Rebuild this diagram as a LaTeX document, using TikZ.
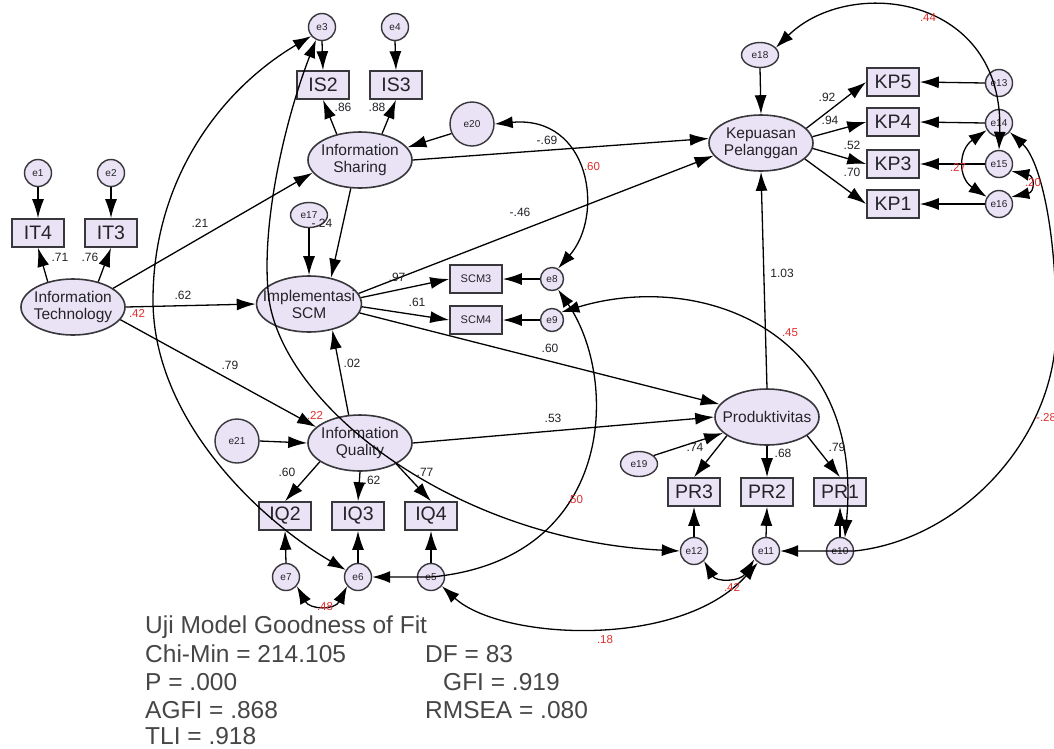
\documentclass[tikz,border=0pt]{standalone}
\usepackage{fontspec}
\setmainfont{Liberation Sans}
\usetikzlibrary{shapes.geometric,arrows.meta}
\definecolor{nodefill}{RGB}{234,226,245}
\definecolor{bord}{RGB}{55,55,60}
\definecolor{ink}{RGB}{35,35,40}
\definecolor{redlab}{RGB}{225,45,45}
\definecolor{fitgray}{RGB}{70,70,70}
\begin{document}
\begin{tikzpicture}[x=1pt,y=-1pt,
  lat/.style={ellipse,draw=bord,fill=nodefill,line width=1.6pt,minimum width=104pt,minimum height=56pt,inner sep=-9pt,align=center,text=ink,font=\fontsize{15.5}{17}\selectfont},
  obs/.style={rectangle,draw=bord,fill=nodefill,line width=1.6pt,minimum width=52pt,minimum height=28pt,inner sep=0pt,text=ink,font=\fontsize{19.5}{20}\selectfont},
  obssmall/.style={obs,font=\fontsize{11}{11}\selectfont},
  err/.style={circle,draw=bord,fill=nodefill,line width=1.4pt,minimum size=27pt,inner sep=0pt,text=ink,font=\fontsize{10}{10}\selectfont},
  errs/.style={err,minimum size=23pt},
  errbig/.style={err,minimum size=44pt},
  errell/.style={ellipse,draw=bord,fill=nodefill,line width=1.4pt,minimum width=37pt,minimum height=25pt,inner sep=-3pt,text=ink,font=\fontsize{10}{10}\selectfont},
  arr/.style={line width=1.3pt,-{Latex[length=19pt,width=12pt]}},
  cov/.style={line width=1.3pt,{Latex[length=18pt,width=12pt]}-{Latex[length=18pt,width=12pt]}},
  coef/.style={font=\fontsize{12}{12}\selectfont,text=ink,inner sep=0pt},
  rcoef/.style={font=\fontsize{11.5}{12}\selectfont,text=redlab,inner sep=0pt},
  fit/.style={font=\fontsize{24.5}{25}\selectfont,text=fitgray,anchor=base west,inner sep=0pt},
]
\fill[white] (0,0) rectangle (1054,748);
\useasboundingbox (0,0) rectangle (1054,748);

% ---------- nodes ----------
\node[err] (e1) at (38,173) {e1};
\node[err] (e2) at (111,173) {e2};
\node[obs] (IT4) at (38,233) {IT4};
\node[obs] (IT3) at (111,233) {IT3};
\node[lat] (IT) at (73,307) {Information\\Technology};

\node[err] (e3) at (322,27) {e3};
\node[err] (e4) at (395,27) {e4};
\node[obs] (IS2) at (323,85) {IS2};
\node[obs] (IS3) at (396,85) {IS3};
\node[lat] (IS) at (360,160) {Information\\Sharing};
\node[errbig] (e20) at (472,124) {e20};
\node[errell] (e17) at (309,215) {e17};

\node[lat] (SCM) at (309,304) {Implementasi\\SCM};
\node[obssmall] (SCM3) at (476,279) {SCM3};
\node[obssmall] (SCM4) at (476,320) {SCM4};
\node[errs] (e8) at (552,279) {e8};
\node[errs] (e9) at (552,320) {e9};

\node[errbig] (e21) at (237,441) {e21};
\node[lat] (IQ) at (360,443) {Information\\Quality};
\node[obs] (IQ2) at (285,516) {IQ2};
\node[obs] (IQ3) at (358,516) {IQ3};
\node[obs] (IQ4) at (431,516) {IQ4};
\node[err] (e7) at (286,577) {e7};
\node[err] (e6) at (358,577) {e6};
\node[err] (e5) at (431,577) {e5};

\node[errell] (e18) at (760,55) {e18};
\node[lat] (KP) at (761,143) {Kepuasan\\Pelanggan};
\node[obs] (KP5) at (893,82) {KP5};
\node[obs] (KP4) at (893,122) {KP4};
\node[obs] (KP3) at (893,164) {KP3};
\node[obs] (KP1) at (893,204) {KP1};
\node[err] (e13) at (999,83) {e13};
\node[err] (e14) at (999,123) {e14};
\node[err] (e15) at (999,164) {e15};
\node[err] (e16) at (999,204) {e16};

\node[lat] (PR) at (767,417) {Produktivitas};
\node[errell] (e19) at (639,464) {e19};
\node[obs] (PR3) at (694,492) {PR3};
\node[obs] (PR2) at (767,492) {PR2};
\node[obs] (PR1) at (840,492) {PR1};
\node[err] (e12) at (694,551) {e12};
\node[err] (e11) at (766,551) {e11};
\node[err] (e10) at (840,551) {e10};

% ---------- error -> indicator ----------
\draw[arr] (e1.south) -- (IT4.north);
\draw[arr] (e2.south) -- (IT3.north);
\draw[arr] (e3.south) -- (IS2.north);
\draw[arr] (e4.south) -- (IS3.north);
\draw[arr] (e13.west) -- (KP5.east);
\draw[arr] (e14.west) -- (KP4.east);
\draw[arr] (e15.west) -- (KP3.east);
\draw[arr] (e16.west) -- (KP1.east);
\draw[arr] (e8.west) -- (SCM3.east);
\draw[arr] (e9.west) -- (SCM4.east);
\draw[arr] (e7.north) -- (IQ2.south);
\draw[arr] (e6.north) -- (IQ3.south);
\draw[arr] (e5.north) -- (IQ4.south);
\draw[arr] (e12.north) -- (PR3.south);
\draw[arr] (e11.north) -- (PR2.south);
\draw[arr] (e10.north) -- (PR1.south);
\draw[arr] (e18.south) -- (KP.north);
\draw[arr] (e20.-155) -- (IS.15);
\draw[arr] (e17.south) -- (SCM.north);
\draw[arr] (e21.east) -- (IQ.west);
\draw[arr] (e19.30) -- (PR.200);

% ---------- loadings ----------
\draw[arr] (IT.135) -- (IT4.south);
\draw[arr] (IT.45) -- (IT3.south);
\draw[arr] (IS.132) -- (IS2.south);
\draw[arr] (IS.50) -- (IS3.south);
\draw[arr] (KP.18) -- (KP5.west);
\draw[arr] (KP.7) -- (KP4.west);
\draw[arr] (KP.-6) -- (KP3.west);
\draw[arr] (KP.-20) -- (KP1.west);
\draw[arr] (SCM.7) -- (SCM3.west);
\draw[arr] (SCM.-3) -- (SCM4.west);
\draw[arr] (IQ.-155) -- (IQ2.north);
\draw[arr] (IQ.south) -- (IQ3.north);
\draw[arr] (IQ.-30) -- (IQ4.north);
\draw[arr] (PR.-155) -- (PR3.north);
\draw[arr] (PR.south) -- (PR2.north);
\draw[arr] (PR.-25) -- (PR1.north);

% ---------- structural paths ----------
\draw[arr] (IT.25) -- (IS.195);
\draw[arr] (IT.east) -- (SCM.west);
\draw[arr] (IT.-15) -- (IQ.160);
\draw[arr] (IS.-108) -- (SCM.50);
\draw[arr] (IQ.112) -- (SCM.-48);
\draw[arr] (IS.east) -- (KP.175);
\draw[arr] (SCM.12) -- (KP.195);
\draw[arr] (SCM.-10) -- (PR.165);
\draw[arr] (IQ.east) -- (PR.west);
\draw[arr] (PR.north) -- (KP.south);

% ---------- covariances ----------
\draw[cov] (e3.-140) .. controls (220,90) and (153,180) .. (153,300)
           .. controls (153,420) and (260,520) .. (e6.150);
\draw[cov] (e3.-115) .. controls (285,120) and (262,220) .. (268,290)
           .. controls (275,400) and (450,540) .. (e12.west);
\draw[cov] (e20.east) .. controls (590,115) and (605,215) .. (e8.60);
\draw[cov] (e8.-60) .. controls (620,380) and (615,560) .. (e5.center) -- (e6.east);
\draw[cov] (e9.40) .. controls (700,270) and (865,330) .. (e10.70);
\draw[cov] (e5.-40) .. controls (500,640) and (680,650) .. (e11.-125);
\draw[cov] (e12.-45) .. controls (716,582) and (740,582) .. (e11.-145);
\draw[cov] (e7.-40) .. controls (310,610) and (335,610) .. (e6.-140);
\draw[cov] (e14.-150) .. controls (958,150) and (958,178) .. (e16.150);
\draw[cov] (e15.-30) .. controls (1035,176) and (1035,192) .. (e16.30);
\draw[cov] (e18.25) .. controls (850,-25) and (1005,-5) .. (e15.north);
\draw[cov] (e11.east) -- (e10.east) .. controls (960,540) and (1055,440) .. (1056,330)
           .. controls (1057,230) and (1040,160) .. (e14.-40);

% ---------- coefficient labels ----------
\node[coef] (l1) at (60,257) {.71};
\node[coef] (l2) at (90,257) {.76};
\node[coef] (l3) at (200,223) {.21};
\node[coef] (l4) at (183,295) {.62};
\node[rcoef] (l5) at (137,313) {.42};
\node[coef] (l6) at (230,365) {.79};
\node[coef] (l7) at (343,107) {.86};
\node[coef] (l8) at (377,107) {.88};
\node[coef] (l9) at (322,223) {-.24};
\node[coef] (l10) at (547,140) {-.69};
\node[rcoef] (l11) at (592,167) {.60};
\node[coef] (l12) at (520,212) {-.46};
\node[coef] (l13) at (397,277) {.97};
\node[coef] (l14) at (417,302) {.61};
\node[coef] (l15) at (550,348) {.60};
\node[coef] (l16) at (352,363) {.02};
\node[rcoef] (l17) at (315,415) {.22};
\node[coef] (l18) at (553,418) {.53};
\node[coef] (l19) at (287,472) {.60};
\node[coef] (l20) at (372,480) {.62};
\node[coef] (l21) at (425,472) {.77};
\node[rcoef] (l22) at (575,500) {.50};
\node[rcoef] (l23) at (325,607) {.48};
\node[rcoef] (l24) at (605,640) {.18};
\node[rcoef] (l25) at (732,587) {.42};
\node[coef] (l26) at (695,447) {.74};
\node[coef] (l27) at (783,453) {.68};
\node[coef] (l28) at (837,447) {.79};
\node[rcoef] (l29) at (790,333) {.45};
\node[coef] (l30) at (782,273) {1.03};
\node[rcoef,anchor=west] (l31) at (1036,418) {-.28};
\node[rcoef] (l32) at (928,18) {.44};
\node[coef] (l33) at (827,97) {.92};
\node[coef] (l34) at (830,120) {.94};
\node[coef] (l35) at (852,145) {.52};
\node[coef] (l36) at (852,172) {.70};
\node[rcoef] (l37) at (958,167) {.27};
\node[rcoef] (l38) at (1033,183) {.20};

% ---------- fit statistics ----------
\node[fit] (f1) at (145,633) {Uji Model Goodness of Fit};
\node[fit] (f2) at (145,662) {Chi-Min = 214.105};
\node[fit] (f3) at (425,662) {DF = 83};
\node[fit] (f4) at (145,690) {P = .000};
\node[fit] (f5) at (443,690) {GFI = .919};
\node[fit] (f6) at (145,718) {AGFI = .868};
\node[fit] (f7) at (425,718) {RMSEA = .080};
\node[fit] (f8) at (145,744) {TLI = .918};
\end{tikzpicture}
\end{document}
